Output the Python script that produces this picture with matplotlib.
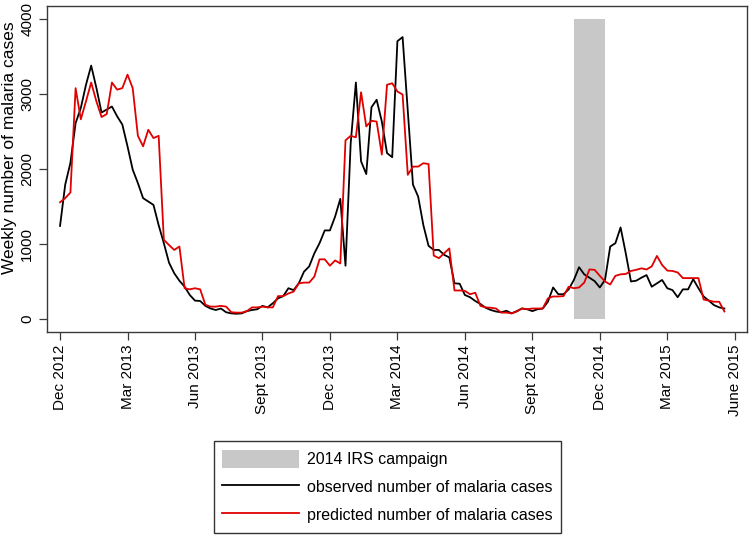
import matplotlib
matplotlib.use("Agg")
import matplotlib.pyplot as plt
from matplotlib.patches import Patch
from matplotlib.lines import Line2D
import numpy as np

plt.rcParams['font.family'] = ['Liberation Sans', 'DejaVu Sans']

# weekly observed cases (week 0 = early Dec 2012)
observed = [1240, 1790, 2080, 2610, 2810, 3120, 3375, 3080, 2750, 2790,
            2830, 2700, 2590, 2300, 1990, 1810, 1610, 1565, 1520, 1250,
            1010, 750, 610, 510, 430, 320, 245, 240, 175, 140,
            120, 140, 90, 75, 70, 75, 105, 120, 130, 175,
            155, 210, 275, 305, 410, 385, 475, 630, 700, 875,
            1010, 1180, 1180, 1365, 1600, 710, 2340, 3150, 2100, 1930,
            2820, 2920, 2630, 2210, 2155, 3700, 3755, 2765, 1790, 1630,
            1250, 975, 920, 920, 855, 820, 475, 470, 320, 290,
            240, 200, 150, 120, 100, 90, 110, 75, 105, 140,
            130, 105, 130, 140, 230, 420, 330, 330, 395, 520,
            690, 595, 550, 505, 420, 520, 965, 1010, 1220, 875,
            500, 510, 550, 585, 430, 475, 520, 410, 385, 290,
            395, 395, 530, 410, 300, 245, 185, 155, 140]

predicted = [1555, 1610, 1685, 3075, 2660, 2900, 3150, 2900, 2690, 2730,
             3150, 3055, 3075, 3255, 3075, 2440, 2300, 2520, 2410, 2440,
             1055, 985, 920, 965, 410, 395, 410, 395, 190, 165,
             165, 175, 165, 90, 85, 85, 105, 155, 155, 165,
             155, 155, 305, 305, 340, 365, 475, 485, 485, 565,
             795, 795, 710, 780, 740, 2380, 2440, 2420, 3020, 2565,
             2640, 2630, 2190, 3120, 3140, 3030, 2990, 1920, 2030, 2030,
             2075, 2065, 845, 810, 875, 940, 380, 380, 375, 330,
             350, 175, 155, 150, 140, 85, 85, 75, 100, 140,
             130, 140, 140, 140, 275, 300, 300, 305, 430, 410,
             420, 485, 660, 655, 575, 500, 460, 575, 595, 600,
             640, 655, 675, 660, 700, 840, 720, 645, 640, 620,
             545, 545, 545, 545, 260, 245, 230, 230, 100]

weeks = np.arange(len(observed))

# IRS campaign window (weeks)
irs_start, irs_end = 99, 105
irs_top = 4000

tick_weeks = [0, 13, 26, 39, 52, 65, 78, 91, 104, 117, 130]
tick_labels = ['Dec 2012', 'Mar 2013', 'Jun 2013', 'Sept 2013', 'Dec 2013',
               'Mar 2014', 'Jun 2014', 'Sept 2014', 'Dec 2014', 'Mar 2015',
               'June 2015']
y_ticks = [0, 1000, 2000, 3000, 4000]

W, H = 750, 536
fig = plt.figure(figsize=(W / 100, H / 100), dpi=100)
ax = fig.add_axes([46.7 / W, 1 - 332 / H, 700 / W, (332 - 5.7) / H])

gray = '#C8C8C8'
red = '#E00000'
ax.fill_between([irs_start, irs_end], [0, 0], [irs_top, irs_top],
                color=gray, linewidth=0, zorder=1)
ax.plot(weeks, observed, color='black', lw=1.3, zorder=3)
ax.plot(weeks, predicted, color=red, lw=1.3, zorder=3)

ax.set_xlim(-2.57, 132.3)
ax.set_ylim(-173, 4173)
ax.set_xticks(tick_weeks)
ax.set_xticklabels(tick_labels, rotation=90, fontsize=11)
ax.set_yticks(y_ticks)
ax.set_yticklabels([str(v) for v in y_ticks], rotation=90, va='center',
                   fontsize=11)
for s in ax.spines.values():
    s.set_color('#3a3a3a')
    s.set_linewidth(1.0)
ax.tick_params(axis='both', direction='out', length=5.5, width=0.9,
               color='#3a3a3a', pad=3.5)

fig.text(10 / W, 1 - 148 / H, 'Weekly number of malaria cases',
         rotation=90, ha='center', va='center', fontsize=12.5)

handles = [Patch(facecolor=gray, edgecolor='none'),
           Line2D([0], [0], color='black', lw=1.3),
           Line2D([0], [0], color=red, lw=1.3)]
labels = ['2014 IRS campaign', 'observed number of malaria cases',
          'predicted number of malaria cases']
leg = fig.legend(handles, labels, loc='upper center',
                 bbox_to_anchor=(387.5 / W, 1 - 441 / H), fontsize=11.5,
                 frameon=True, fancybox=False, edgecolor='black',
                 handlelength=4.8, handleheight=1.4, handletextpad=0.5,
                 labelspacing=0.6, borderpad=0.55, borderaxespad=0)
leg.get_frame().set_linewidth(1.0)

fig.savefig('out.png', dpi=100)
